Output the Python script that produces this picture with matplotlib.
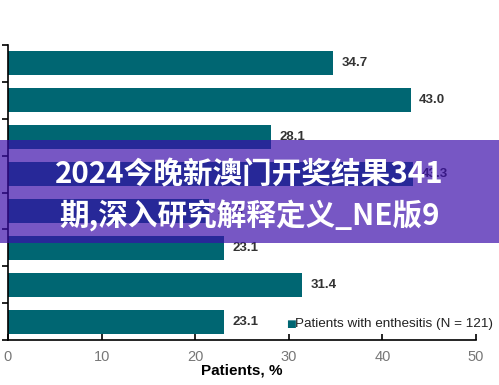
import matplotlib.pyplot as plt
from matplotlib.patches import Rectangle

# values, top bar first
values = [34.7, 43.0, 28.1, 43.3, 21.5, 23.1, 31.4, 23.1]
labels = ['34.7', '43.0', '28.1', '43.3', '21.5', '23.1', '31.4', '23.1']
xticks = [0, 10, 20, 30, 40, 50]
legend_label = 'Patients with enthesitis (N = 121)'
banner_lines = ['2024今晚新澳门开奖结果341', '期,深入研究解释定义_NE版9']

teal = '#006672'
plt.rcParams['font.family'] = ['Liberation Sans', 'DejaVu Sans']

fig = plt.figure(figsize=(4.99, 3.85), dpi=100)
ax = fig.add_axes([0.016, 0.117, 0.938, 0.766])

pos = list(range(len(values)))[::-1]
ax.barh(pos, values, height=0.65, color=teal)
for p, v, t in zip(pos, values, labels):
    ax.text(v + 0.9, p, t, va='center', ha='left', fontsize=9.5,
            color='#333333', fontweight='bold')

ax.set_xlim(0, 50)
ax.set_ylim(-0.5, len(values) - 0.5)
ax.set_xticks(xticks)
ax.set_xticklabels([str(x) for x in xticks], color='#777777', fontsize=10.5)
ax.tick_params(axis='x', direction='in', length=4, width=1.2, pad=7)
ax.set_yticks([p + 0.5 for p in range(-1, len(values))])
ax.set_yticklabels([])
ax.tick_params(axis='y', direction='out', length=4, width=1.2)
for s in ['top', 'right']:
    ax.spines[s].set_visible(False)
ax.spines['left'].set_linewidth(1.2)
ax.spines['bottom'].set_linewidth(1.2)
ax.set_xlabel('Patients, %', fontsize=11, fontweight='bold', labelpad=0)

# legend
fig.text(0.573, 0.159, '\u25a0', color=teal, fontsize=7.5, va='center', ha='left',
         family='DejaVu Sans')
fig.text(0.591, 0.159, legend_label, color='#222222', fontsize=9.7,
         va='center', ha='left')

# overlay banner
fig.patches.append(Rectangle((0, 0.369), 1, 0.268, transform=fig.transFigure,
                             facecolor='#3a0caa', alpha=0.69, edgecolor='none'))
fig.text(0.5, 0.548, banner_lines[0], ha='center', va='center', color='white',
         fontsize=21.3, fontweight='bold', family=['Noto Sans CJK SC', 'DejaVu Sans'])
fig.text(0.5, 0.44, banner_lines[1], ha='center', va='center', color='white',
         fontsize=21.3, fontweight='bold', family=['Noto Sans CJK SC', 'DejaVu Sans'])

fig.savefig('out.png', dpi=100)
